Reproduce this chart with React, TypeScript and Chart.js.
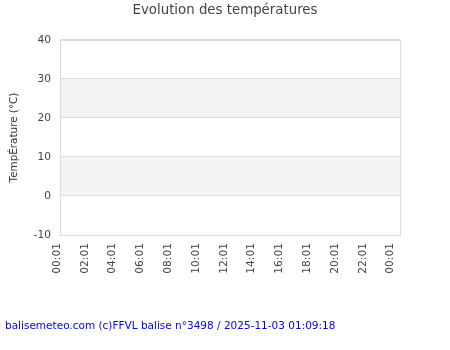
import React, { useEffect, useRef } from "react";
import { Chart, registerables } from "chart.js";

Chart.register(...registerables);

const chartTitle = "Evolution des températures";
const yAxisTitle = "TempÉrature (°C)";
const footerText = "balisemeteo.com (c)FFVL balise n°3498 / 2025-11-03 01:09:18";

// hours after 00:01 of the first day
const tickHours = [0, 2, 4, 6, 8, 10, 12, 14, 16, 18, 20, 22, 24];
const tickLabels = ["00:01", "02:01", "04:01", "06:01", "08:01", "10:01", "12:01", "14:01", "16:01", "18:01", "20:01", "22:01", "00:01"];
const xMinHour = 0.22;
const xMaxHour = 24.68;

const yMin = -10;
const yMax = 40;
const yStep = 10;

// no measurements recorded in the window
const measureHours: number[] = [];
const temperatures: number[] = [];

const FONT = "'DejaVu Sans', sans-serif";

const framePlugin = {
  id: "frame",
  beforeDraw(chart: any) {
    const { ctx, chartArea, scales } = chart;
    const y = scales.y;
    ctx.save();
    ctx.fillStyle = "#ffffff";
    ctx.fillRect(chartArea.left, chartArea.top, chartArea.width, chartArea.height);
    const ticks = y.ticks.map((t: any) => t.value).sort((a: number, b: number) => a - b);
    ctx.fillStyle = "#f3f3f3";
    for (let i = 0; i < ticks.length - 1; i++) {
      if (i % 2 === 1) {
        const p1 = y.getPixelForValue(ticks[i]);
        const p2 = y.getPixelForValue(ticks[i + 1]);
        ctx.fillRect(chartArea.left, Math.min(p1, p2), chartArea.width, Math.abs(p1 - p2));
      }
    }
    ctx.restore();
  },
  afterDraw(chart: any) {
    const { ctx, chartArea } = chart;
    ctx.save();
    ctx.strokeStyle = "#dddddd";
    ctx.lineWidth = 1;
    ctx.strokeRect(
      Math.round(chartArea.left) + 0.5,
      Math.round(chartArea.top) + 0.5,
      Math.round(chartArea.width),
      Math.round(chartArea.height)
    );
    ctx.restore();
  },
};

export default function App() {
  const canvasRef = useRef<HTMLCanvasElement | null>(null);

  useEffect(() => {
    if (!canvasRef.current) return;
    const data = measureHours.map((h, i) => ({ x: h, y: temperatures[i] }));
    const chart = new Chart(canvasRef.current, {
      type: "line",
      data: {
        datasets: [
          {
            label: "Température",
            data,
            borderColor: "#d00000",
            borderWidth: 1,
            pointRadius: 0,
          },
        ],
      },
      plugins: [framePlugin],
      options: {
        responsive: false,
        animation: false,
        layout: { padding: 0 },
        plugins: {
          legend: { display: false },
          tooltip: { enabled: false },
          title: {
            display: true,
            text: chartTitle,
            color: "#444444",
            font: { family: FONT, size: 13.33, weight: "normal" },
            padding: { top: 3, bottom: 21 },
          },
        },
        scales: {
          x: {
            type: "linear",
            min: xMinHour,
            max: xMaxHour,
            afterBuildTicks: (scale: any) => {
              scale.ticks = tickHours.map((v) => ({ value: v }));
            },
            afterFit: (scale: any) => {
              scale.height = 115;
            },
            grid: { display: false, drawTicks: false },
            border: { display: false },
            ticks: {
              autoSkip: false,
              maxRotation: 90,
              minRotation: 90,
              padding: 8,
              color: "#444444",
              font: { family: FONT, size: 10.67 },
              callback: (value: any) => {
                const idx = tickHours.indexOf(Number(value));
                return idx >= 0 ? tickLabels[idx] : "";
              },
            },
          },
          y: {
            min: yMin,
            max: yMax,
            afterFit: (scale: any) => {
              scale.width = 60;
            },
            grid: { color: "#dddddd", drawTicks: false, lineWidth: 1 },
            border: { display: false },
            ticks: {
              stepSize: yStep,
              padding: 9,
              color: "#444444",
              font: { family: FONT, size: 10.67 },
            },
            title: {
              display: true,
              text: yAxisTitle,
              color: "#333333",
              font: { family: FONT, size: 10.4 },
              padding: { top: 8, bottom: 0 },
            },
          },
          yRight: {
            type: "linear",
            position: "right",
            min: yMin,
            max: yMax,
            afterFit: (scale: any) => {
              scale.width = 50;
            },
            grid: { display: false, drawTicks: false },
            border: { display: false },
            ticks: { display: false },
          },
        },
      },
    });
    return () => chart.destroy();
  }, []);

  return (
    <div style={{ position: "fixed", left: 0, top: 0, width: 450, height: 350, background: "#ffffff" }}>
      <canvas ref={canvasRef} width={450} height={350} style={{ position: "absolute", left: 0, top: 0 }} />
      <div
        style={{
          position: "absolute",
          left: 5,
          top: 318,
          fontFamily: FONT,
          fontSize: "10.5px",
          lineHeight: "14px",
          color: "#0000ff",
          whiteSpace: "nowrap",
        }}
      >
        {footerText}
      </div>
    </div>
  );
}
